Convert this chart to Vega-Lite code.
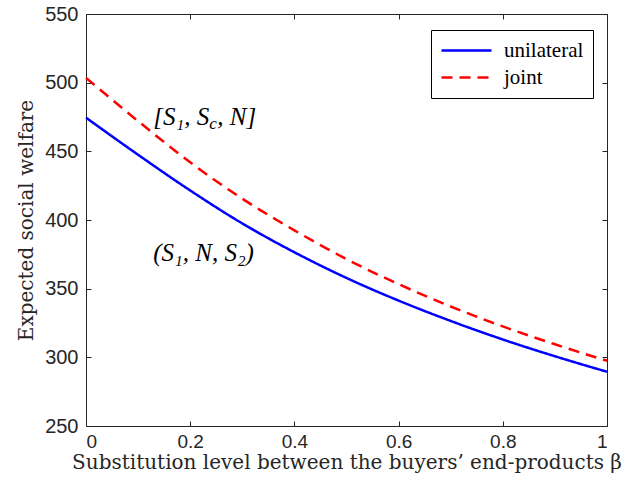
{
  "$schema": "https://vega.github.io/schema/vega-lite/v6.json",
  "autosize": "none",
  "width": 521,
  "height": 412,
  "padding": {"left": 86, "top": 14, "right": 26, "bottom": 63},
  "background": "white",
  "config": {
    "view": {"stroke": null},
    "axis": {
      "grid": false,
      "domainColor": "#262626",
      "tickColor": "#262626",
      "labelColor": "#262626",
      "titleColor": "#262626",
      "labelFont": "Liberation Sans",
      "labelFontSize": 20,
      "titleFont": "DejaVu Serif",
      "titleFontWeight": "normal",
      "titleFontSize": 20,
      "tickSize": -5,
      "domainWidth": 1,
      "tickWidth": 1
    }
  },
  "datasets": {
    "curves": [
      {"beta": 0.0, "value": 474.5, "series": "unilateral"},
      {"beta": 0.1, "value": 447.5, "series": "unilateral"},
      {"beta": 0.2, "value": 421.5, "series": "unilateral"},
      {"beta": 0.3, "value": 397.5, "series": "unilateral"},
      {"beta": 0.4, "value": 376.5, "series": "unilateral"},
      {"beta": 0.5, "value": 357.8, "series": "unilateral"},
      {"beta": 0.6, "value": 341.3, "series": "unilateral"},
      {"beta": 0.7, "value": 326.5, "series": "unilateral"},
      {"beta": 0.8, "value": 313.0, "series": "unilateral"},
      {"beta": 0.9, "value": 300.8, "series": "unilateral"},
      {"beta": 1.0, "value": 289.5, "series": "unilateral"},
      {"beta": 0.0, "value": 503.5, "series": "joint"},
      {"beta": 0.1, "value": 472.0, "series": "joint"},
      {"beta": 0.2, "value": 442.0, "series": "joint"},
      {"beta": 0.3, "value": 415.5, "series": "joint"},
      {"beta": 0.4, "value": 392.5, "series": "joint"},
      {"beta": 0.5, "value": 371.5, "series": "joint"},
      {"beta": 0.6, "value": 353.3, "series": "joint"},
      {"beta": 0.7, "value": 337.0, "series": "joint"},
      {"beta": 0.8, "value": 322.5, "series": "joint"},
      {"beta": 0.9, "value": 309.5, "series": "joint"},
      {"beta": 1.0, "value": 297.5, "series": "joint"}
    ],
    "annot": [
      {"part": "a1", "text": "[S₁, S", "beta": 0.129, "value": 469.4},
      {"part": "a2", "text": "c", "beta": 0.129, "value": 469.4},
      {"part": "a3", "text": ", N]", "beta": 0.129, "value": 469.4},
      {"part": "b1", "text": "(S₁, N, S₂)", "beta": 0.129, "value": 370.1}
    ]
  },
  "layer": [
    {
      "data": {"name": "curves"},
      "mark": {"type": "line", "interpolate": "monotone", "strokeWidth": 2.5},
      "encoding": {
        "x": {
          "field": "beta", "type": "quantitative",
          "scale": {"domain": [0, 1], "nice": false},
          "axis": {
            "values": [0, 0.2, 0.4, 0.6, 0.8, 1],
            "format": "~g",
            "labelFontSize": 19,
            "labelPadding": 11,
            "title": "Substitution level between the buyers’ end-products β",
            "titlePadding": 1
          }
        },
        "y": {
          "field": "value", "type": "quantitative",
          "scale": {"domain": [250, 550], "nice": false, "zero": false},
          "axis": {
            "values": [250, 300, 350, 400, 450, 500, 550],
            "format": "d",
            "labelPadding": 13,
            "title": "Expected social welfare",
            "titlePadding": 8
          }
        },
        "color": {
          "field": "series", "type": "nominal",
          "scale": {"domain": ["unilateral", "joint"], "range": ["#0000ff", "#ff0000"]},
          "legend": {
            "title": null,
            "orient": "none",
            "legendX": 345,
            "legendY": 16,
            "symbolType": "stroke",
            "symbolSize": 2500,
            "symbolStrokeWidth": 2.5,
            "labelFont": "Liberation Serif",
            "labelFontSize": 21,
            "labelColor": "black",
            "labelOffset": 11,
            "padding": 9,
            "rowPadding": 4,
            "clipHeight": 23,
            "strokeColor": "black",
            "fillColor": "white",
            "cornerRadius": 0
          }
        },
        "strokeDash": {
          "field": "series", "type": "nominal",
          "scale": {"domain": ["unilateral", "joint"], "range": [[1, 0], [11, 7]]},
          "legend": {
            "title": null,
            "orient": "none",
            "legendX": 345,
            "legendY": 16,
            "symbolType": "stroke",
            "symbolSize": 2500,
            "symbolStrokeWidth": 2.5,
            "labelFont": "Liberation Serif",
            "labelFontSize": 21,
            "labelColor": "black",
            "labelOffset": 11,
            "padding": 9,
            "rowPadding": 4,
            "clipHeight": 23,
            "strokeColor": "black",
            "fillColor": "white",
            "cornerRadius": 0
          }
        }
      }
    },
    {
      "data": {"name": "curves"},
      "mark": {"type": "line", "strokeOpacity": 0},
      "encoding": {
        "x": {
          "field": "beta", "type": "quantitative",
          "scale": {"domain": [0, 1], "nice": false},
          "axis": {"orient": "top", "values": [0, 0.2, 0.4, 0.6, 0.8, 1], "labels": false, "title": null}
        },
        "y": {
          "field": "value", "type": "quantitative",
          "scale": {"domain": [250, 550], "nice": false, "zero": false},
          "axis": {"orient": "right", "values": [250, 300, 350, 400, 450, 500, 550], "labels": false, "title": null}
        },
        "detail": {"field": "series"}
      }
    },
    {
      "data": {"name": "annot"},
      "transform": [{"filter": "datum.part == 'a1'"}],
      "mark": {"type": "text", "align": "left", "baseline": "alphabetic", "font": "Liberation Serif", "fontStyle": "italic", "fontSize": 25, "color": "black"},
      "encoding": {
        "x": {"field": "beta", "type": "quantitative", "axis": null},
        "y": {"field": "value", "type": "quantitative", "axis": null},
        "text": {"field": "text"}
      }
    },
    {
      "data": {"name": "annot"},
      "transform": [{"filter": "datum.part == 'a2'"}],
      "mark": {"type": "text", "align": "left", "baseline": "alphabetic", "font": "Liberation Serif", "fontStyle": "italic", "fontSize": 17, "color": "black", "dx": 56, "dy": 4},
      "encoding": {
        "x": {"field": "beta", "type": "quantitative", "axis": null},
        "y": {"field": "value", "type": "quantitative", "axis": null},
        "text": {"field": "text"}
      }
    },
    {
      "data": {"name": "annot"},
      "transform": [{"filter": "datum.part == 'a3'"}],
      "mark": {"type": "text", "align": "left", "baseline": "alphabetic", "font": "Liberation Serif", "fontStyle": "italic", "fontSize": 25, "color": "black", "dx": 64},
      "encoding": {
        "x": {"field": "beta", "type": "quantitative", "axis": null},
        "y": {"field": "value", "type": "quantitative", "axis": null},
        "text": {"field": "text"}
      }
    },
    {
      "data": {"name": "annot"},
      "transform": [{"filter": "datum.part == 'b1'"}],
      "mark": {"type": "text", "align": "left", "baseline": "alphabetic", "font": "Liberation Serif", "fontStyle": "italic", "fontSize": 25, "color": "black"},
      "encoding": {
        "x": {"field": "beta", "type": "quantitative", "axis": null},
        "y": {"field": "value", "type": "quantitative", "axis": null},
        "text": {"field": "text"}
      }
    }
  ],
  "resolve": {"axis": {"x": "independent", "y": "independent"}}
}
